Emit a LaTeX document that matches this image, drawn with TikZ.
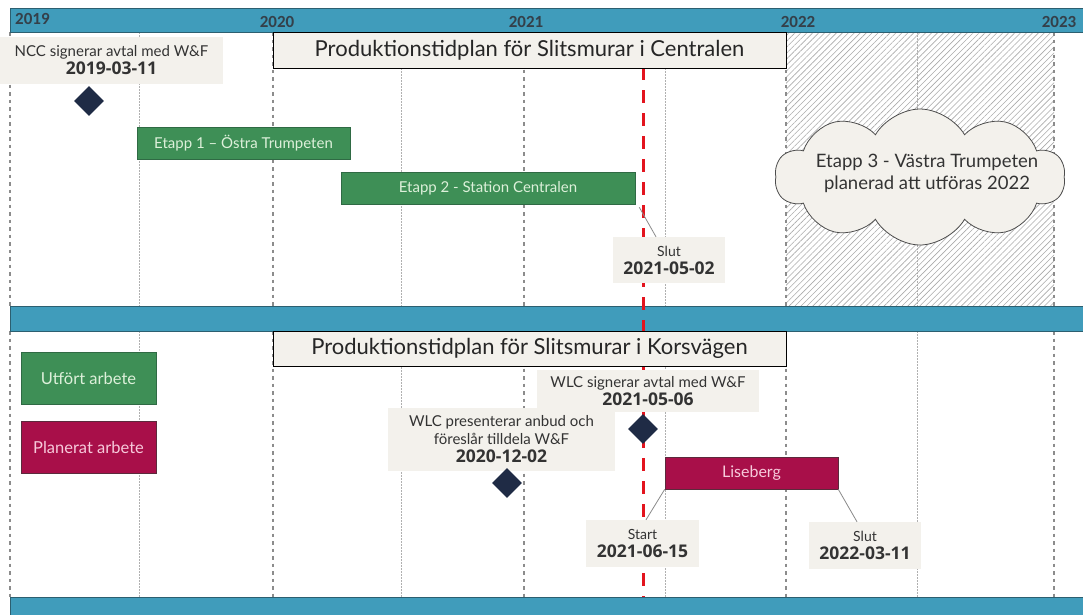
\documentclass[tikz,border=0pt]{standalone}
\usepackage{fontspec}
\setmainfont{Lato}
\newfontfamily\datefont{Open Sans}
\newfontfamily\yearfont{Carlito}
\usetikzlibrary{shapes.geometric,shapes.symbols,patterns.meta}
\definecolor{barblue}{HTML}{409CBB}
\definecolor{baredge}{HTML}{2C5F70}
\definecolor{callfill}{HTML}{F3F1EC}
\definecolor{okgreen}{HTML}{3E8F56}
\definecolor{okgreenedge}{HTML}{2F6A44}
\definecolor{okgreentext}{HTML}{DDF0DA}
\definecolor{plancrim}{HTML}{A80F49}
\definecolor{plancrimedge}{HTML}{5B2A3C}
\definecolor{plancrimtext}{HTML}{F7CADB}
\definecolor{navy}{HTML}{1F2B45}
\definecolor{redline}{HTML}{E3141E}
\definecolor{yeartext}{HTML}{34404A}
\definecolor{gridgray}{HTML}{8C8C8C}
\definecolor{halfgray}{HTML}{B0B0B0}
\definecolor{hatchgray}{HTML}{ABABAB}
\definecolor{leadgray}{HTML}{8A8A8A}
\newcommand{\datum}[1]{{\datefont\bfseries\fontsize{17.5}{18}\selectfont #1}}
\begin{document}
\begin{tikzpicture}[x=1pt,y=-1pt,
  bar/.style={fill=barblue, draw=baredge, line width=0.8pt},
  yearlabel/.style={font=\yearfont\bfseries\fontsize{17}{18}\selectfont, text=yeartext, inner sep=0pt},
  yearline/.style={draw=gridgray, line width=1.2pt, dash pattern=on 3.5pt off 4pt},
  halfline/.style={draw=halfgray, line width=0.8pt, dash pattern=on 1.5pt off 1.5pt},
  titlebox/.style={rectangle, fill=callfill, draw=black, line width=0.8pt, font=\fontsize{22}{25}\selectfont, text=black!85, minimum width=513pt, inner sep=0pt},
  callout/.style={rectangle, fill=callfill, align=center, font=\fontsize{15}{18}\selectfont, text=black!80, inner sep=0pt},
  smallcallout/.style={callout, font=\fontsize{14}{18}\selectfont},
  donebox/.style={rectangle, fill=okgreen, draw=okgreenedge, line width=0.6pt, text=okgreentext, font=\fontsize{15}{17}\selectfont, inner sep=0pt},
  planbox/.style={rectangle, fill=plancrim, draw=plancrimedge, line width=0.6pt, text=plancrimtext, font=\fontsize{15}{17}\selectfont, inner sep=0pt},
  legendfont/.style={font=\fontsize{16.5}{19}\selectfont},
  milestone/.style={diamond, fill=navy, minimum width=30pt, minimum height=30pt, inner sep=0pt},
  leader/.style={draw=leadgray, line width=0.8pt},
  deadline/.style={draw=redline, line width=3pt, dash pattern=on 13pt off 10pt}
]
\useasboundingbox (0,0) rectangle (1083,614);
\fill[white] (0,0) rectangle (1083,614);
% hatched future region
\fill[pattern={Lines[angle=45,distance=4.2pt,line width=0.6pt]}, pattern color=hatchgray] (786,32) rectangle (1054,306);
% grid lines
\foreach \gx in {10,273,524,786,1054} {
  \draw[yearline] (\gx,32) -- (\gx,306);
  \draw[yearline] (\gx,331) -- (\gx,597);
}
\foreach \gx in {139,401,665,917} {
  \draw[halfline] (\gx,32) -- (\gx,306);
  \draw[halfline] (\gx,331) -- (\gx,597);
}
% bars
\draw[bar] (10,8) rectangle (1090,32);
\draw[bar] (10,306) rectangle (1090,331);
\draw[bar] (10,597) rectangle (1090,620);
% year labels
\node[yearlabel, anchor=west] (y2019) at (15,19) {2019};
\node[yearlabel] (y2020) at (277,22) {2020};
\node[yearlabel] (y2021) at (526,22) {2021};
\node[yearlabel] (y2022) at (798,22) {2022};
\node[yearlabel] (y2023) at (1059,22) {2023};
% deadline
\draw[deadline] (643,67) -- (643,597);
% titles
\node[titlebox, minimum height=36pt] (ttop) at (529.5,50) {Produktionstidplan för Slitsmurar i Centralen};
\node[titlebox, minimum height=35pt] (tmid) at (529.5,348.5) {Produktionstidplan för Slitsmurar i Korsvägen};
% top section
\node[callout, minimum width=223pt, minimum height=47pt] (ncc) at (111.5,60.5) {NCC signerar avtal med W\&F\\\datum{2019-03-11}};
\node[milestone] (m1) at (89,101) {};
\node[donebox, minimum width=213pt, minimum height=32pt] (e1) at (243.5,143) {Etapp 1 – Östra Trumpeten};
\node[donebox, minimum width=294pt, minimum height=32pt] (e2) at (488,188) {Etapp 2 - Station Centralen};
\node[smallcallout, minimum width=112pt, minimum height=46pt] (s1) at (669,260) {Slut\\\datum{2021-05-02}};
\draw[leader] ([shift={(4pt,-3pt)}]e2.south east) -- ([xshift=-13pt]s1.north);
\node[cloud, cloud puffs=10, cloud puff arc=120, aspect=2.1, fill=callfill, draw=black!70, line width=0.8pt, minimum width=290pt, minimum height=136pt, inner sep=0pt] (c3) at (920,177) {};
\node[align=center, font=\fontsize{18.5}{22}\selectfont, text=black!80] (c3text) at (927,173.5) {Etapp 3 - Västra Trumpeten\\planerad att utföras 2022};
% bottom section
\node[donebox, legendfont, minimum width=135pt, minimum height=52pt] (leg1) at (88.5,378) {Utfört arbete};
\node[planbox, legendfont, minimum width=135pt, minimum height=52pt] (leg2) at (88.5,447.5) {Planerat arbete};
\node[callout, minimum width=222pt, minimum height=42pt] (wlc2) at (648,391) {WLC signerar avtal med W\&F\\\datum{2021-05-06}};
\node[callout, minimum width=227pt, minimum height=63pt] (wlc1) at (501.5,439.5) {WLC presenterar anbud och\\föreslår tilldela W\&F\\\datum{2020-12-02}};
\node[milestone] (m2) at (643,429) {};
\node[milestone] (m3) at (507,483) {};
\node[planbox, font=\fontsize{16}{18}\selectfont, minimum width=173pt, minimum height=32pt] (lis) at (751.5,473) {Liseberg};
\node[smallcallout, minimum width=113pt, minimum height=47pt] (st) at (642.5,543.5) {Start\\\datum{2021-06-15}};
\node[smallcallout, minimum width=112pt, minimum height=47pt] (sl) at (865,545.5) {Slut\\\datum{2022-03-11}};
\draw[leader] (lis.south west) -- ([xshift=3.5pt]st.north);
\draw[leader] (lis.south east) -- ([xshift=-8pt]sl.north);
\end{tikzpicture}
\end{document}
